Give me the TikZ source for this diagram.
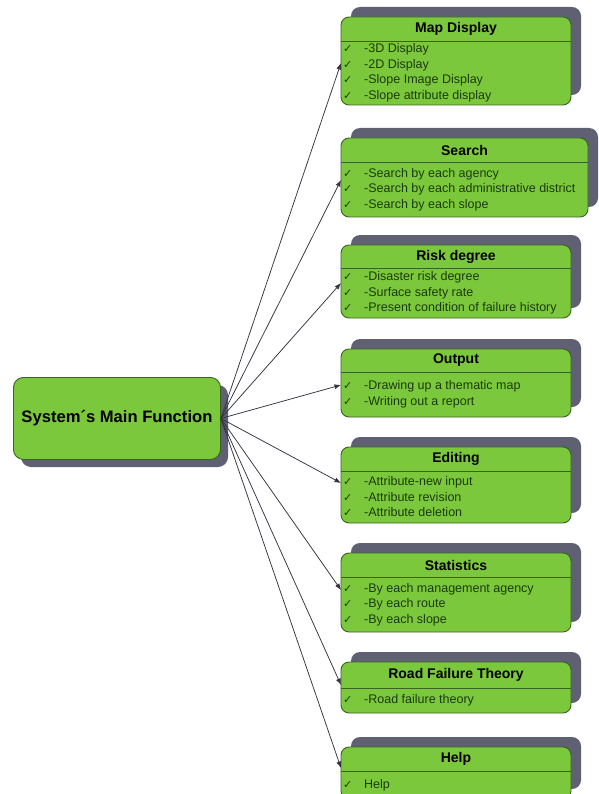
\documentclass[tikz,border=0pt]{standalone}
\usepackage{fontspec}
\setmainfont{Liberation Sans}
\newfontfamily\symfont{DejaVu Sans}
\usetikzlibrary{arrows.meta}
\definecolor{boxgreen}{HTML}{7CC83C}
\definecolor{boxedge}{HTML}{3A6322}
\definecolor{shadowc}{HTML}{5F6172}
\definecolor{itemc}{HTML}{1A3A10}
\definecolor{linkc}{HTML}{33333F}
\newcommand\myck{\makebox[21pt][l]{\fontsize{11}{11}\symfont ✓}}
\tikzset{
  panel/.style={draw=boxedge, line width=0.9pt, fill=boxgreen, rounded corners=8pt},
  shade/.style={fill=shadowc, rounded corners=9pt},
  sepline/.style={draw=boxedge, line width=0.9pt},
  title/.style={font=\fontsize{14}{16}\selectfont\bfseries, text=black, inner sep=0pt},
  items/.style={font=\fontsize{12.5}{15.5}\selectfont, text=itemc, align=left, inner sep=0pt, anchor=west},
  link/.style={draw=linkc, line width=0.75pt, -{Latex[length=6.5pt,width=5pt]}},
}
\newcommand\funcbox[7]{% name, top, header, bottom, right, title, items
  \fill[shade] (351,#2-10) rectangle (#5+10,#4-10);
  \path[panel] (341,#2) rectangle (#5,#4);
  \coordinate (#1-nw) at (341,#2);
  \draw[sepline] (341,#3) -- (#5,#3);
  \node[title] (#1-t) at ({(341+#5)/2},{(#2+#3)/2}) {#6};
  \node[items] (#1-i) at (343,{(#3+#4)/2}) {#7};
}
\begin{document}
\begin{tikzpicture}[x=1pt,y=-1pt]
\useasboundingbox (0,0) rectangle (598,794);
\clip (0,0) rectangle (598,794);
% main box
\fill[shadowc, rounded corners=10pt] (21,385) rectangle (228,467);
\node[panel, rounded corners=10pt, minimum width=207pt, minimum height=82pt, anchor=north west, inner sep=0pt,
  font=\fontsize{16.6}{18}\selectfont\bfseries] (main) at (13,377) {System´s Main Function};

\funcbox{map}{17}{41}{105}{571}{Map Display}{\myck-3D Display\\\myck-2D Display\\\myck-Slope Image Display\\\myck-Slope attribute display}
\funcbox{search}{138}{162}{217}{588}{Search}{\myck-Search by each agency\\\myck-Search by each administrative district\\\myck-Search by each slope}
\funcbox{risk}{245}{268}{318}{571}{Risk degree}{\myck-Disaster risk degree\\\myck-Surface safety rate\\\myck-Present condition of failure history}
\funcbox{output}{349}{372}{417}{571}{Output}{\myck-Drawing up a thematic map\\\myck-Writing out a report}
\funcbox{edit}{447}{471}{523}{571}{Editing}{\myck-Attribute-new input\\\myck-Attribute revision\\\myck-Attribute deletion}
\funcbox{stat}{553}{577}{632}{571}{Statistics}{\myck-By each management agency\\\myck-By each route\\\myck-By each slope}
\funcbox{road}{662}{688}{713}{571}{Road Failure Theory}{\myck-Road failure theory}
\funcbox{help}{747}{771}{799}{571}{Help}{\myck Help}

% connector end points on the left edges
\coordinate (e-map) at (341,63);
\coordinate (e-search) at (341,180);
\coordinate (e-risk) at (341,283);
\coordinate (e-output) at (341,385);
\coordinate (e-edit) at (341,483);
\coordinate (e-stat) at (341,590);
\coordinate (e-road) at (341,685);
\coordinate (e-help) at (341,768);
\foreach \t in {map,search,risk,output,edit,stat,road,help}
  \draw[link] (main.east) -- (e-\t);
\end{tikzpicture}
\end{document}
